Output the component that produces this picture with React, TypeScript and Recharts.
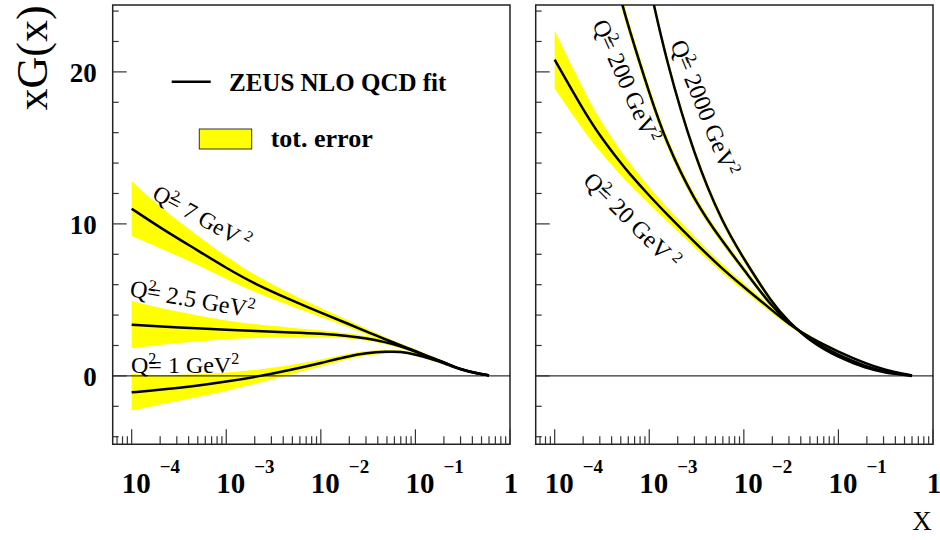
import React from 'react';
import { Area, ComposedChart, Line, ReferenceArea, ReferenceLine, XAxis, YAxis } from 'recharts';

// xG(x) from the ZEUS NLO QCD fit, two panels on a log-x axis

const SERIF = "'Liberation Serif', 'Times New Roman', Times, serif";
const X_MIN = 6.3e-5;
const Y_MIN = -4.5;
const Y_MAX = 24.4;

const Y_TICKS = [-4, -2, 0, 2, 4, 6, 8, 10, 12, 14, 16, 18, 20, 22, 24];
const Y_LABELS = [0, 10, 20];
const DECADES = [1e-4, 1e-3, 1e-2, 1e-1, 1];
const DECADE_EXP = ['−4', '−3', '−2', '−1', ''];
const MINOR_STEPS = [2, 3, 4, 5, 6, 7, 8, 9];
const X_TICKS = [
  7e-5, 8e-5, 9e-5,
  ...DECADES.flatMap((d) => (d < 1 ? [d, ...MINOR_STEPS.map((m) => m * d)] : [d])),
];

// left panel: Q2 = 1, 2.5, 7 GeV2
const X_LEFT = [1e-4, 2e-4, 5e-4, 1e-3, 2e-3, 5e-3, 1e-2, 2e-2, 3e-2, 5e-2, 7e-2, 0.1, 0.15, 0.2, 0.3, 0.45, 0.6];
const Q1 = [-1.08, -0.92, -0.65, -0.38, -0.08, 0.42, 0.85, 1.3, 1.5, 1.6, 1.6, 1.42, 1.1, 0.85, 0.4, 0.15, 0.03];
const Q1_LO = [-2.28, -1.87, -1.4, -0.98, -0.53, 0.12, 0.63, 1.13, 1.35, 1.48, 1.5, 1.32, 1.0, 0.77, 0.34, 0.11, 0.01];
const Q1_HI = [0.12, 0.03, 0.1, 0.22, 0.37, 0.72, 1.07, 1.47, 1.65, 1.72, 1.7, 1.52, 1.2, 0.93, 0.46, 0.19, 0.05];
const Q25 = [3.37, 3.25, 3.12, 3.03, 2.95, 2.86, 2.78, 2.63, 2.48, 2.2, 1.95, 1.6, 1.15, 0.88, 0.42, 0.17, 0.03];
const Q25_LO = [1.82, 2.05, 2.27, 2.43, 2.5, 2.56, 2.56, 2.46, 2.33, 2.07, 1.83, 1.5, 1.05, 0.8, 0.36, 0.13, 0.01];
const Q25_HI = [4.92, 4.45, 3.97, 3.63, 3.4, 3.16, 3.0, 2.8, 2.63, 2.33, 2.07, 1.7, 1.25, 0.96, 0.48, 0.21, 0.05];
const Q7 = [11.0, 9.75, 8.25, 7.1, 6.05, 4.95, 4.15, 3.4, 2.92, 2.36, 2.0, 1.65, 1.18, 0.9, 0.42, 0.17, 0.03];
const Q7_LO = [9.2, 8.4, 7.3, 6.35, 5.5, 4.55, 3.85, 3.18, 2.72, 2.21, 1.88, 1.55, 1.08, 0.82, 0.36, 0.13, 0.01];
const Q7_HI = [12.8, 11.1, 9.2, 7.85, 6.6, 5.35, 4.45, 3.62, 3.12, 2.51, 2.12, 1.75, 1.28, 0.98, 0.48, 0.21, 0.05];

// right panel: Q2 = 20, 200, 2000 GeV2
const X_RIGHT = [1e-4, 2e-4, 3e-4, 5e-4, 6e-4, 1e-3, 1.5e-3, 3e-3, 6e-3, 1e-2, 2e-2, 3e-2, 5e-2, 0.1, 0.2, 0.3, 0.6];
const Q20 = [20.8, 17.5, 15.8, 14.0, 13.4, 11.85, 10.7, 8.8, 7.0, 5.85, 4.3, 3.4, 2.5, 1.58, 0.78, 0.42, 0.02];
const Q20_LO = [18.9, 16.15, 14.75, 13.2, 12.68, 11.3, 10.25, 8.45, 6.72, 5.6, 4.1, 3.25, 2.4, 1.5, 0.73, 0.39, 0.01];
const Q20_HI = [22.7, 18.85, 16.85, 14.8, 14.12, 12.4, 11.15, 9.15, 7.28, 6.1, 4.5, 3.55, 2.6, 1.66, 0.83, 0.45, 0.03];
const Q200 = [null, null, null, 24.8, 23.0, 18.6, 15.4, 11.5, 8.8, 7.0, 4.5, 3.5, 2.38, 1.35, 0.6, 0.3, 0.01];
const Q200_LO = [null, null, null, 24.35, 22.58, 18.22, 15.07, 11.22, 8.56, 6.8, 4.35, 3.38, 2.28, 1.29, 0.56, 0.28, 0];
const Q200_HI = [null, null, null, 25.25, 23.42, 18.98, 15.73, 11.78, 9.04, 7.2, 4.65, 3.62, 2.48, 1.41, 0.64, 0.32, 0.02];
const Q2000 = [null, null, null, null, null, 25.8, 20.8, 14.4, 10.0, 7.7, 4.75, 3.55, 2.28, 1.2, 0.48, 0.22, 0];
const Q2000_LO = [null, null, null, null, null, 25.45, 20.48, 14.12, 9.76, 7.5, 4.59, 3.43, 2.18, 1.13, 0.44, 0.21, 0];
const Q2000_HI = [null, null, null, null, null, 26.15, 21.12, 14.68, 10.24, 7.9, 4.91, 3.67, 2.38, 1.27, 0.52, 0.23, 0.01];

const band = (lo: (number | null)[], hi: (number | null)[], i: number) =>
  lo[i] == null || hi[i] == null ? null : [lo[i], hi[i]];

const leftRows = X_LEFT.map((x, i) => ({
  x,
  a: Q1[i], aBand: band(Q1_LO, Q1_HI, i),
  b: Q25[i], bBand: band(Q25_LO, Q25_HI, i),
  c: Q7[i], cBand: band(Q7_LO, Q7_HI, i),
}));

const rightRows = X_RIGHT.map((x, i) => ({
  x,
  a: Q20[i], aBand: band(Q20_LO, Q20_HI, i),
  b: Q200[i], bBand: band(Q200_LO, Q200_HI, i),
  c: Q2000[i], cBand: band(Q2000_LO, Q2000_HI, i),
}));

const XTick = (props: any) => {
  const { x, y, payload } = props;
  const k = DECADES.indexOf(payload.value);
  const major = k >= 0;
  return (
    <g>
      <line x1={x} x2={x} y1={y} y2={y - (major ? 15 : 8)} stroke="#333" strokeWidth={1.2} />
      {major && k === DECADES.length - 1 && (
        <text x={x + 1} y={y + 49} textAnchor="middle" fontFamily={SERIF} fontWeight="bold" fontSize={29} fill="#000">
          1
        </text>
      )}
      {major && k < DECADES.length - 1 && (
        <text x={x - 10} y={y + 49} fontFamily={SERIF} fontWeight="bold" fontSize={29} fill="#000">
          10
          <tspan dx={9} dy={-20} fontSize={19}>{DECADE_EXP[k]}</tspan>
        </text>
      )}
    </g>
  );
};

const makeYTick = (labels: boolean) => (props: any) => {
  const { x, y, payload } = props;
  const major = payload.value % 10 === 0;
  return (
    <g>
      <line x1={x} x2={x + (major ? 14 : 6)} y1={y} y2={y} stroke="#333" strokeWidth={1.2} />
      {labels && Y_LABELS.includes(payload.value) && (
        <text x={x - 16} y={y + 10} textAnchor="end" fontFamily={SERIF} fontWeight="bold" fontSize={27} fill="#000">
          {payload.value}
        </text>
      )}
    </g>
  );
};

function Panel({ rows, left, labels }: { rows: any[]; left: number; labels: boolean }) {
  return (
    <div style={{ position: 'absolute', left, top: 0 }}>
      <ComposedChart width={520} height={540} data={rows} margin={{ top: 5, right: 10, bottom: 0, left: 0 }}>
        <XAxis
          dataKey="x"
          type="number"
          scale="log"
          domain={[X_MIN, 1]}
          allowDataOverflow
          ticks={X_TICKS}
          interval={0}
          tick={XTick}
          tickLine={false}
          axisLine={false}
          tickSize={0}
          tickMargin={0}
          height={95.7}
        />
        <YAxis
          type="number"
          domain={[Y_MIN, Y_MAX]}
          allowDataOverflow
          ticks={Y_TICKS}
          interval={0}
          tick={makeYTick(labels)}
          tickLine={false}
          axisLine={false}
          tickSize={0}
          tickMargin={0}
          width={112.7}
        />
        <ReferenceLine y={0} stroke="#000" strokeWidth={1} />
        <Area dataKey="aBand" type="basis" stroke="none" fill="#ffff00" fillOpacity={1} isAnimationActive={false} />
        <Area dataKey="bBand" type="basis" stroke="none" fill="#ffff00" fillOpacity={1} isAnimationActive={false} />
        <Area dataKey="cBand" type="basis" stroke="none" fill="#ffff00" fillOpacity={1} isAnimationActive={false} />
        <Line dataKey="a" type="basis" stroke="#000" strokeWidth={2.5} dot={false} activeDot={false} isAnimationActive={false} />
        <Line dataKey="b" type="basis" stroke="#000" strokeWidth={2.5} dot={false} activeDot={false} isAnimationActive={false} />
        <Line dataKey="c" type="basis" stroke="#000" strokeWidth={2.5} dot={false} activeDot={false} isAnimationActive={false} />
        <ReferenceArea
          x1={X_MIN}
          x2={1}
          y1={Y_MIN}
          y2={Y_MAX}
          fill="none"
          stroke="#222"
          strokeWidth={1.5}
          ifOverflow="visible"
        />
      </ComposedChart>
    </div>
  );
}

function QLabel({ x, y, angle, q, gap = 0, size = 23 }: { x: number; y: number; angle: number; q: string; gap?: number; size?: number }) {
  const sup = Math.round(size * 0.65);
  return (
    <text transform={`translate(${x},${y}) rotate(${angle})`} fontFamily={SERIF} fontSize={size} fill="#000">
      Q
      <tspan dy={-9} fontSize={sup}>2</tspan>
      <tspan dx={-8} dy={9}>{`= ${q} GeV`}</tspan>
      <tspan dx={gap} dy={-9} fontSize={sup}>2</tspan>
    </text>
  );
}

export default function App() {
  return (
    <div style={{ position: 'absolute', left: 0, top: 0, width: 940, height: 540, background: '#fff' }}>
      <Panel rows={leftRows} left={0} labels />
      <Panel rows={rightRows} left={423.3} labels={false} />
      <svg width={940} height={540} style={{ position: 'absolute', left: 0, top: 0, pointerEvents: 'none' }}>
        <text transform="translate(32,58) rotate(-90)" textAnchor="middle" dominantBaseline="central" fontFamily={SERIF} fontSize={44} fill="#000">
          xG(x)
        </text>
        <text x={922} y={530} textAnchor="middle" fontFamily={SERIF} fontSize={27} fill="#000">
          X
        </text>

        <line x1={171.7} x2={210.7} y1={81.7} y2={81.7} stroke="#000" strokeWidth={2.5} />
        <text x={229} y={91} fontFamily={SERIF} fontWeight="bold" fontSize={25} fill="#000">
          ZEUS NLO QCD fit
        </text>
        <rect x={199.3} y={129} width={52.4} height={20} fill="#ffff00" stroke="#333" strokeWidth={1} />
        <text x={270.7} y={147} fontFamily={SERIF} fontWeight="bold" fontSize={26} fill="#000">
          tot. error
        </text>

        <QLabel x={151} y={198} angle={29} q="7" gap={5} />
        <QLabel x={129} y={296} angle={10} q="2.5" size={24} />
        <QLabel x={131} y={373} angle={0} q="1" size={24} />
        <QLabel x={582} y={182} angle={45} q="20" gap={5} size={24} />
        <QLabel x={592} y={24} angle={66} q="200" size={24} />
        <QLabel x={670} y={44} angle={68} q="2000" size={24} />
      </svg>
    </div>
  );
}
